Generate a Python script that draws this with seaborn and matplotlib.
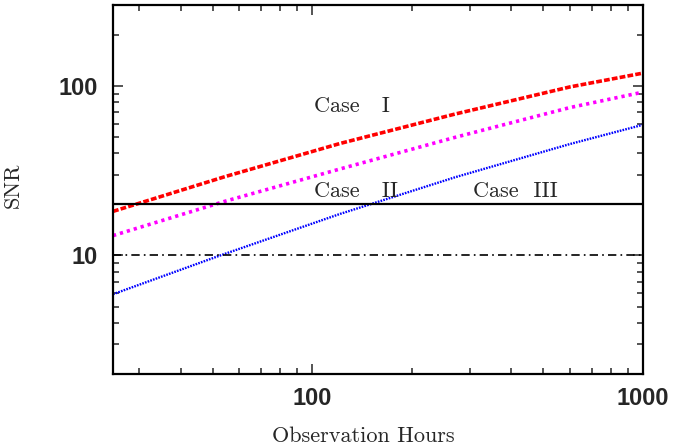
import numpy as np
import pandas as pd
import seaborn as sns
import matplotlib.pyplot as plt
from matplotlib.ticker import LogLocator, FuncFormatter, NullFormatter

# values (log-log axes)
hours_case1 = [25, 54.6, 121.6, 270, 601, 1000]
snr_case1 = [18.2, 29.2, 45.8, 68.2, 98.6, 119]

hours_case2 = [25, 54.6, 121.6, 270, 601, 1000]
snr_case2 = [13.1, 20.9, 32.4, 49.7, 74.5, 91.9]

hours_case3 = [25, 52.7, 121.6, 270, 601, 1000]
snr_case3 = [5.91, 10.0, 17.6, 28.9, 45.4, 59.0]

snr_threshold_hi = 20
snr_threshold_lo = 10

x_ticks = [100, 1000]
y_ticks = [10, 100]

df1 = pd.DataFrame({'hours': hours_case1, 'snr': snr_case1})
df2 = pd.DataFrame({'hours': hours_case2, 'snr': snr_case2})
df3 = pd.DataFrame({'hours': hours_case3, 'snr': snr_case3})

sns.set_style('ticks')
plt.rcParams['font.family'] = ['cmr10', 'DejaVu Serif']
plt.rcParams['axes.unicode_minus'] = False

fig = plt.figure(figsize=(6.73, 4.48), dpi=100)
ax = fig.add_axes([113 / 673, 74 / 448, 530 / 673, 369 / 448])

sns.lineplot(data=df1, x='hours', y='snr', ax=ax, color='#ff0000', lw=2.6,
             estimator=None)
ax.lines[-1].set_dashes((1.6, 0.6))
sns.lineplot(data=df2, x='hours', y='snr', ax=ax, color='#ff00ff', lw=2.6,
             estimator=None)
ax.lines[-1].set_dashes((0.9, 1.1))
sns.lineplot(data=df3, x='hours', y='snr', ax=ax, color='#0000ff', lw=1.7,
             estimator=None)
ax.lines[-1].set_dashes((0.7, 0.5))

ax.axhline(snr_threshold_hi, color='black', lw=1.6)
ax.axhline(snr_threshold_lo, color='black', lw=1.2, dashes=(5, 2.5, 1, 2.5))

ax.set_xscale('log')
ax.set_yscale('log')
ax.set_xlim(25, 1000)
ax.set_ylim(2, 300)

ax.xaxis.set_major_locator(LogLocator(base=10))
ax.yaxis.set_major_locator(LogLocator(base=10))
ax.xaxis.set_minor_locator(LogLocator(base=10, subs=np.arange(2, 10)))
ax.yaxis.set_minor_locator(LogLocator(base=10, subs=np.arange(2, 10)))
fmt = FuncFormatter(lambda v, p: f'{int(round(v))}' if int(round(v)) in x_ticks + y_ticks else '')
ax.xaxis.set_major_formatter(fmt)
ax.yaxis.set_major_formatter(fmt)
ax.xaxis.set_minor_formatter(NullFormatter())
ax.yaxis.set_minor_formatter(NullFormatter())

ax.tick_params(which='both', direction='in', top=True, right=True, width=1.1)
ax.tick_params(which='major', length=7, pad=9)
ax.tick_params(axis='y', which='major', pad=11)
ax.tick_params(which='minor', length=4)
for lab in ax.get_xticklabels() + ax.get_yticklabels():
    lab.set_fontfamily('Liberation Sans')
    lab.set_fontweight('bold')
    lab.set_fontsize(17)
for s in ax.spines.values():
    s.set_linewidth(1.6)
    s.set_color('black')

ax.set_xlabel('Observation Hours', fontsize=16)
ax.set_ylabel('SNR', fontsize=16)
ax.xaxis.set_label_coords((363 - 113) / 530, -0.143)
ax.yaxis.set_label_coords(-0.17, 0.512)

ax.text(101, 70.3, 'Case   I', fontsize=16, ha='left', va='baseline')
ax.text(101, 22.2, 'Case   II', fontsize=16, ha='left', va='baseline')
ax.text(306, 22.2, 'Case  III', fontsize=16, ha='left', va='baseline')

fig.savefig('out.png', dpi=100)
